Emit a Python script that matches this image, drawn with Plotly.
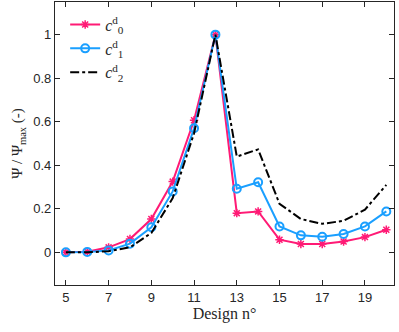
import plotly.graph_objects as go

design = [5, 6, 7, 8, 9, 10, 11, 12, 13, 14, 15, 16, 17, 18, 19, 20]
c0 = [0.0, 0.003, 0.023, 0.061, 0.153, 0.325, 0.607, 1.0, 0.180, 0.188, 0.058, 0.038, 0.038, 0.050, 0.070, 0.104]
c1 = [0.0, 0.002, 0.009, 0.040, 0.115, 0.280, 0.570, 1.0, 0.292, 0.322, 0.119, 0.078, 0.072, 0.084, 0.119, 0.188]
c2 = [0.0, 0.0, 0.005, 0.023, 0.089, 0.249, 0.547, 1.0, 0.440, 0.473, 0.223, 0.153, 0.131, 0.145, 0.196, 0.310]
xticks = [5, 7, 9, 11, 13, 15, 17, 19]
yticks = [0, 0.2, 0.4, 0.6, 0.8, 1]

PINK = "#ff1a75"
BLUE = "#1a9fff"

fig = go.Figure()
fig.add_trace(go.Scatter(x=design, y=c0, mode="lines+markers", name="<i>c</i><sup>d</sup><sub>0</sub>",
                         line=dict(color=PINK, width=2),
                         marker=dict(symbol="asterisk-open", size=7, color=PINK, line=dict(color=PINK, width=1.5))))
fig.add_trace(go.Scatter(x=design, y=c1, mode="lines+markers", name="<i>c</i><sup>d</sup><sub>1</sub>",
                         line=dict(color=BLUE, width=2),
                         marker=dict(symbol="circle-open", size=8, color=BLUE, line=dict(color=BLUE, width=2))))
fig.add_trace(go.Scatter(x=design, y=c2, mode="lines", name="<i>c</i><sup>d</sup><sub>2</sub>",
                         line=dict(color="black", width=2, dash="dashdot")))

axis_common = dict(showline=True, linecolor="#262626", linewidth=1.3, mirror="ticks",
                   ticks="inside", ticklen=5, tickcolor="#262626", tickwidth=1.2,
                   showgrid=False, zeroline=False,
                   tickfont=dict(family="Liberation Sans, Arial, sans-serif", size=13, color="#262626"))

fig.update_xaxes(range=[4.49, 20.36], tickvals=xticks,
                 title=dict(text="Design n°", font=dict(family="Liberation Serif, serif", size=16, color="#262626"), standoff=4),
                 **axis_common)
fig.update_yaxes(range=[-0.15, 1.15], tickvals=yticks, ticktext=["0", "0.2", "0.4", "0.6", "0.8", "1"],
                 title=dict(text="Ψ / Ψ<sub>max</sub> (-)", font=dict(family="Liberation Serif, serif", size=15, color="#262626"), standoff=6),
                 **axis_common)

fig.update_layout(width=399, height=332, margin=dict(l=55, r=5, t=2, b=47),
                  plot_bgcolor="white", paper_bgcolor="white",
                  legend=dict(x=0.03, y=0.98, xanchor="left", yanchor="top", bgcolor="rgba(255,255,255,0)",
                              font=dict(family="Liberation Serif, serif", size=16, color="#262626"),
                              tracegroupgap=0, itemwidth=30))
fig.write_html("out.html", config={"displayModeBar": False},
               post_script="document.body.style.margin='0';document.body.style.overflow='hidden';")
